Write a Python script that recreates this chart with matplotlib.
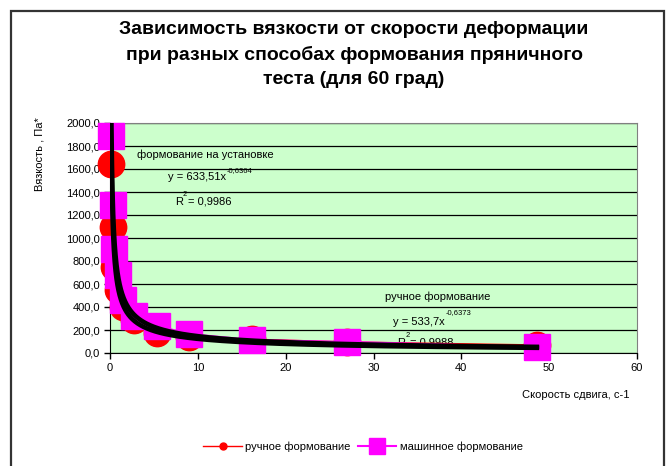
import numpy as np
import matplotlib
matplotlib.use("Agg")
import matplotlib.pyplot as plt
from matplotlib.lines import Line2D
from matplotlib.patches import Rectangle

plt.rcParams['font.family'] = ['Liberation Sans', 'DejaVu Sans']

# скорость сдвига, с-1
shear = [0.1667, 0.3, 0.5, 0.9, 1.5, 2.7, 5.4, 9.0, 16.2, 27.0, 48.6]
# вязкость, Па*с
hand = [1643, 1096, 748, 548, 400, 287, 174, 139, 120, 96, 70]
machine = [1887, 1287, 904, 674, 461, 322, 235, 165, 113, 96, 52]

# коэффициенты степенных трендов y = a*x^b
a_machine, b_machine = 633.51, -0.6364
a_hand, b_hand = 533.7, -0.6373

fig = plt.figure(figsize=(6.68, 4.66), dpi=100)
fig.patch.set_facecolor("white")
fig.patches.append(Rectangle((11/668, -0.01), 653/668, 1 - 11/466 + 0.01,
                             transform=fig.transFigure, fill=False,
                             edgecolor="#333333", linewidth=1.6))

ax = fig.add_axes([110/668, 113/466, 527/668, 230/466])
ax.set_facecolor("#CCFFCC")

ax.plot(shear, hand, color="red", lw=1, marker="o", ms=19, mec="red", mfc="red",
        zorder=3, clip_on=False)
ax.plot(shear, machine, color="magenta", lw=1.5, marker="s", ms=19, mec="magenta",
        mfc="magenta", zorder=3, clip_on=False)

xt = np.geomspace(shear[0], shear[-1], 400)
ax.plot(xt, a_machine * xt ** b_machine, color="black", lw=3.3, zorder=4)
ax.plot(xt, a_hand * xt ** b_hand, color="black", lw=3.3, zorder=4)

ax.set_xlim(0, 60)
ax.set_ylim(0, 2000)
ax.set_xticks(range(0, 61, 10))
ax.set_yticks(range(0, 2001, 200))
ax.set_yticklabels([f"{v},0" for v in range(0, 2001, 200)], fontsize=8)
ax.set_xticklabels([str(v) for v in range(0, 61, 10)], fontsize=8)
ax.tick_params(direction="out", length=4, width=1, pad=3)
ax.grid(axis="y", color="black", lw=0.9)
ax.set_axisbelow(True)
for s in ["top", "right"]:
    ax.spines[s].set_color("#808080")
for s in ["left", "bottom"]:
    ax.spines[s].set_color("black")

# подписи трендов
fs = 8
ax.text(10.9, 1722, "формование на установке", fontsize=fs, ha="center", va="center", zorder=5)
ax.text(13.2, 1530, "y = 633,51x", fontsize=fs, ha="right", va="center", zorder=5)
ax.text(13.3, 1590, "-0,6364", fontsize=5.5, ha="left", va="center", zorder=5)
ax.text(7.4, 1316, "R", fontsize=fs, ha="left", va="center", zorder=5)
ax.text(8.3, 1380, "2", fontsize=5.5, ha="left", va="center", zorder=5)
ax.text(8.9, 1316, "= 0,9986", fontsize=fs, ha="left", va="center", zorder=5)

ax.text(37.3, 487, "ручное формование", fontsize=fs, ha="center", va="center", zorder=2)
ax.text(38.1, 270, "y = 533,7x", fontsize=fs, ha="right", va="center", zorder=2)
ax.text(38.2, 348, "-0,6373", fontsize=5.5, ha="left", va="center", zorder=2)
ax.text(32.7, 87, "R", fontsize=fs, ha="left", va="center", zorder=2)
ax.text(33.6, 150, "2", fontsize=5.5, ha="left", va="center", zorder=2)
ax.text(34.2, 87, "= 0,9988", fontsize=fs, ha="left", va="center", zorder=2)

for i, line in enumerate(["Зависимость вязкости от скорости деформации",
                          "при разных способах формования пряничного",
                          "теста (для 60 град)"]):
    fig.text(354/668, 1 - (30 + 24.5 * i)/466, line, fontsize=14,
             fontweight="bold", ha="center", va="center")

fig.text(40/668, 1 - 154/466, "Вязкость , Па*", fontsize=8, rotation=90, ha="center", va="center")
fig.text(576/668, 1 - 395/466, "Скорость сдвига, с-1", fontsize=8, ha="center", va="center")

handles = [Line2D([], [], color="red", lw=1, marker="o", ms=5),
           Line2D([], [], color="magenta", lw=1.5, marker="s", ms=11)]
fig.legend(handles, ["ручное формование", "машинное формование"], loc="center",
           bbox_to_anchor=(363/668, 1 - 447/466), ncol=2, frameon=False, fontsize=8,
           handlelength=3.5, handletextpad=0.3, columnspacing=0.6)

fig.savefig("out.png", dpi=100)
